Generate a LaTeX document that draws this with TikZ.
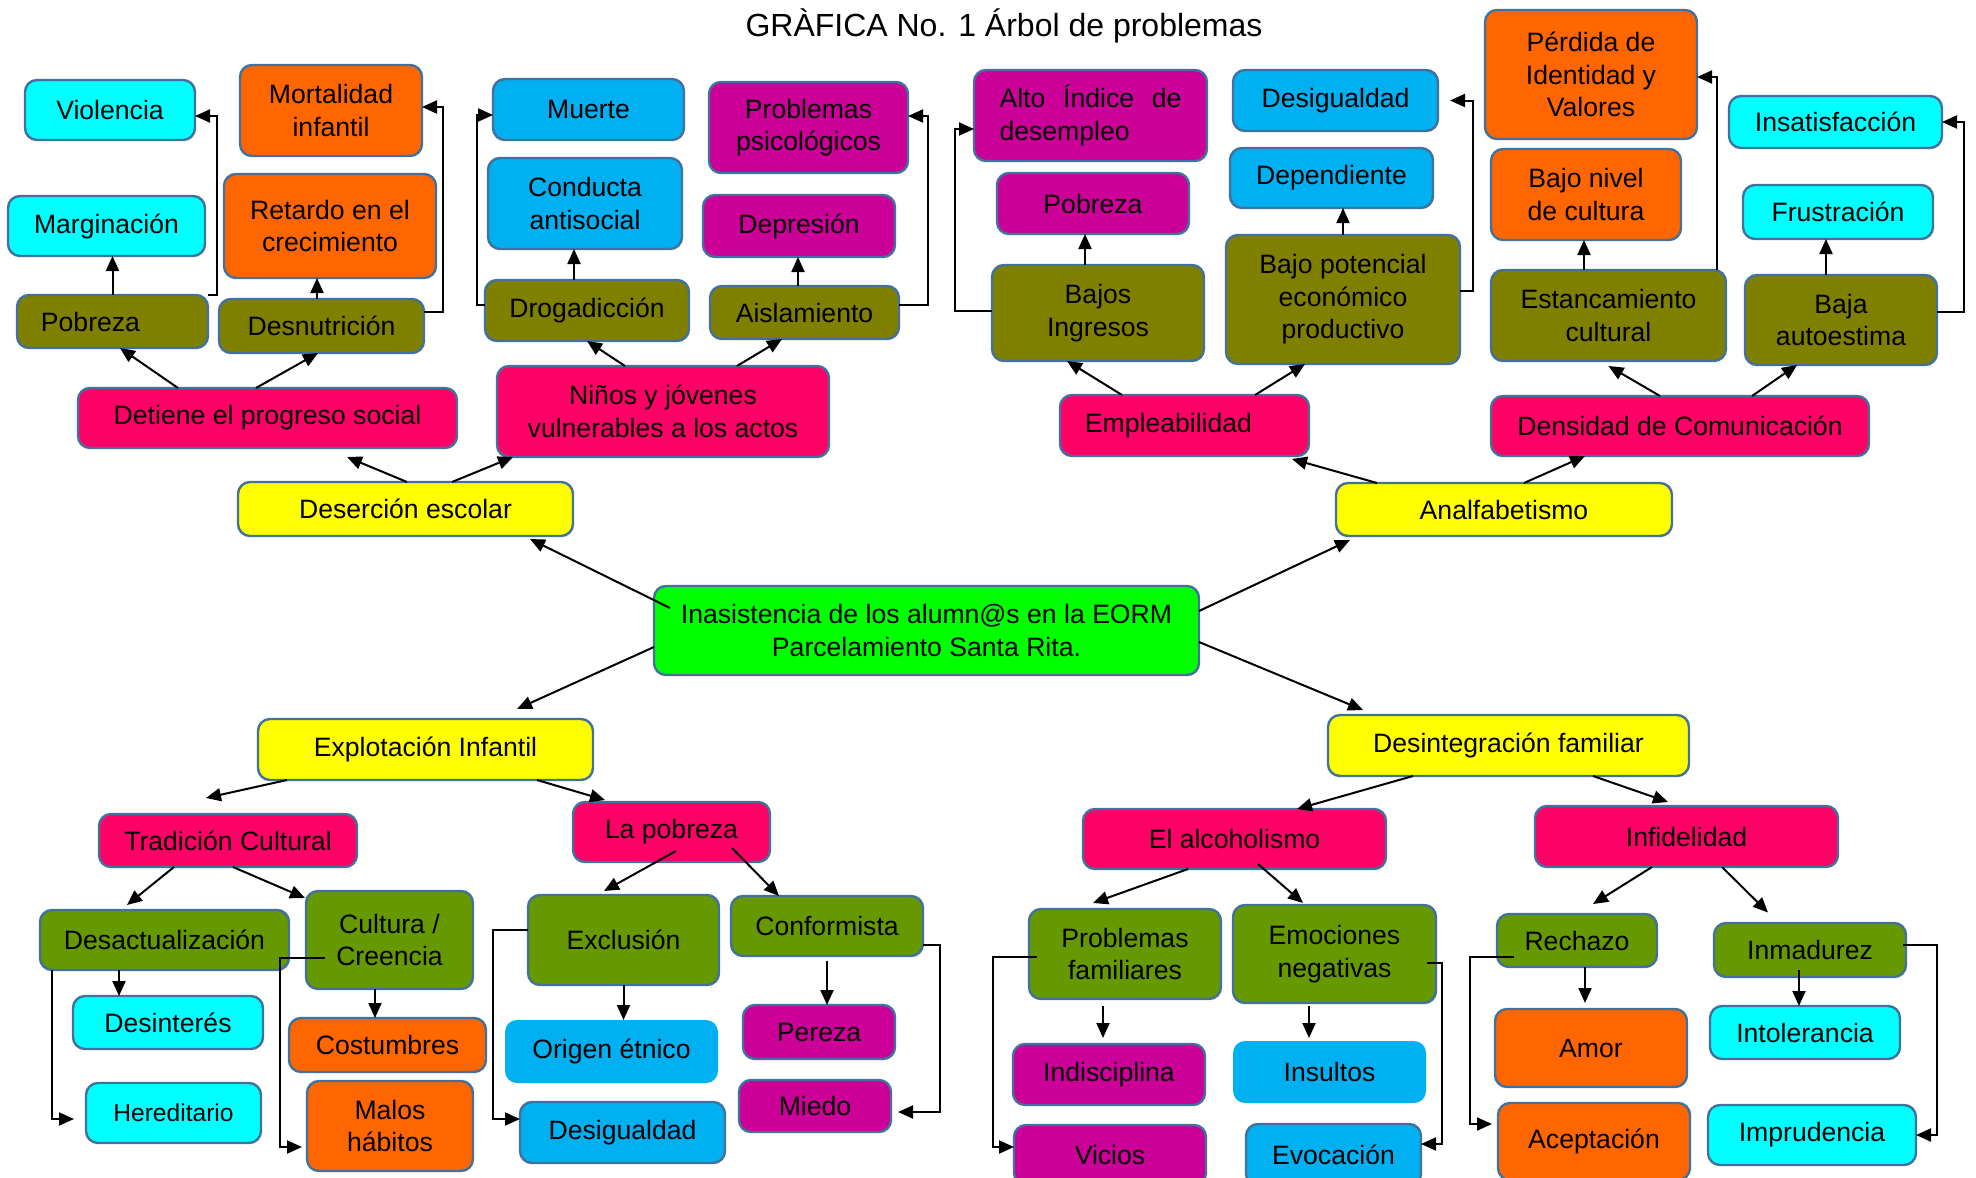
\documentclass[tikz,border=0pt]{standalone}
\usepackage{fontspec}
\setmainfont{Liberation Sans}
\usetikzlibrary{arrows.meta}
\definecolor{cian}{HTML}{00FFFF}
\definecolor{naranja}{HTML}{FF6600}
\definecolor{oliva}{HTML}{808000}
\definecolor{rosa}{HTML}{FF0066}
\definecolor{amarillo}{HTML}{FFFF00}
\definecolor{azul}{HTML}{00B0F0}
\definecolor{morado}{HTML}{CC0099}
\definecolor{verde}{HTML}{00FF00}
\definecolor{verdeosc}{HTML}{669900}
\definecolor{borde}{HTML}{41719C}

\begin{document}
\begin{tikzpicture}[x=0.5pt, y=-0.5pt,
	caja/.style={draw=borde, line width=1.2pt, rounded corners=6pt, inner sep=0pt, outer sep=0pt, align=center, font=\fontsize{13.3pt}{16.3pt}\selectfont},
	flecha/.style={line width=1pt, -{Triangle[length=7.5pt,width=6.5pt]}}]
	\useasboundingbox (0,0) rectangle (1976,1178);
	\draw (1004,36) node[anchor=base, font=\fontsize{16pt}{19pt}\selectfont] (titulo) {GRÀFICA No. 1 Árbol de problemas};
	\draw (110,110) node[caja, fill=cian, minimum width=85pt, minimum height=30pt] (viol) {Violencia};
	\draw (331,110.5) node[caja, fill=naranja, minimum width=91pt, minimum height=45.5pt] (mort) {Mortalidad\\infantil};
	\draw (106.5,226) node[caja, fill=cian, minimum width=98.5pt, minimum height=30pt] (marg) {Marginación};
	\draw (330,226) node[caja, fill=naranja, minimum width=106pt, minimum height=52pt] (retardo) {Retardo en el\\crecimiento};
	\draw (112.5,321.5) node[caja, fill=oliva, minimum width=95.5pt, minimum height=26.5pt] (pobreza) {Pobreza\hspace{22pt}};
	\draw (321.5,326) node[caja, fill=oliva, minimum width=102.5pt, minimum height=27pt] (desnut) {Desnutrición};
	\draw (267.5,418) node[caja, fill=rosa, minimum width=189.5pt, minimum height=30pt] (detiene) {Detiene el progreso social};
	\draw (405.5,509) node[caja, fill=amarillo, minimum width=167.5pt, minimum height=27pt] (deser) {Deserción escolar};
	\draw (588.5,109.5) node[caja, fill=azul, minimum width=95.5pt, minimum height=30.5pt] (muerte) {Muerte};
	\draw (585,203.5) node[caja, fill=azul, minimum width=97pt, minimum height=45.5pt] (conducta) {Conducta\\antisocial};
	\draw (587,310.5) node[caja, fill=oliva, minimum width=102pt, minimum height=30.5pt] (droga) {Drogadicción};
	\draw (808.5,127.5) node[caja, fill=morado, minimum width=99.5pt, minimum height=45.5pt] (psico) {Problemas\\psicológicos};
	\draw (799,226) node[caja, fill=morado, minimum width=96pt, minimum height=31pt] (depre) {Depresión};
	\draw (804.5,312.5) node[caja, fill=oliva, minimum width=94.5pt, minimum height=26.5pt] (aisla) {Aislamiento};
	\draw (663,411.5) node[caja, fill=rosa, minimum width=166pt, minimum height=45.5pt] (ninos) {Niños y jóvenes\\vulnerables a los actos};
	\draw (1090.5,115.5) node[caja, fill=morado, minimum width=116.5pt, minimum height=45.5pt, align=left] (alto) {\makebox[91pt][s]{Alto Índice de}\\desempleo};
	\draw (1093,203.5) node[caja, fill=morado, minimum width=96pt, minimum height=30.5pt] (pobreza2) {Pobreza};
	\draw (1098,313) node[caja, fill=oliva, minimum width=106pt, minimum height=48pt] (bajos) {Bajos\\Ingresos};
	\draw (1335.5,100.5) node[caja, fill=azul, minimum width=102.5pt, minimum height=30.5pt] (desig) {Desigualdad};
	\draw (1331.5,178) node[caja, fill=azul, minimum width=101.5pt, minimum height=30pt] (depen) {Dependiente};
	\draw (1343,299.5) node[caja, fill=oliva, minimum width=117pt, minimum height=64.5pt] (bajopot) {Bajo potencial\\económico\\productivo};
	\draw (1184.5,425.5) node[caja, fill=rosa, minimum width=124.5pt, minimum height=30.5pt] (emplea) {Empleabilidad\hspace{16pt}};
	\draw (1504,509.5) node[caja, fill=amarillo, minimum width=168pt, minimum height=26.5pt] (analf) {Analfabetismo};
	\draw (1591,74.5) node[caja, fill=naranja, minimum width=106pt, minimum height=64.5pt] (perdida) {Pérdida de\\Identidad y\\Valores};
	\draw (1586,194.5) node[caja, fill=naranja, minimum width=95pt, minimum height=45.5pt] (bajonivel) {Bajo nivel\\de cultura};
	\draw (1608.5,315.5) node[caja, fill=oliva, minimum width=117.5pt, minimum height=45.5pt] (estanc) {Estancamiento\\cultural};
	\draw (1835.5,122) node[caja, fill=cian, minimum width=106.5pt, minimum height=26pt] (insat) {Insatisfacción};
	\draw (1838,212) node[caja, fill=cian, minimum width=95pt, minimum height=27pt] (frust) {Frustración};
	\draw (1841,320) node[caja, fill=oliva, minimum width=96pt, minimum height=45pt] (baja) {Baja\\autoestima};
	\draw (1680,426) node[caja, fill=rosa, minimum width=189pt, minimum height=30pt] (densidad) {Densidad de Comunicación};
	\draw (926.5,630.5) node[caja, fill=verde, minimum width=272.5pt, minimum height=44.5pt] (central) {Inasistencia de los alumn@s en la EORM\\Parcelamiento Santa Rita.};
	\draw (425.5,749.5) node[caja, fill=amarillo, minimum width=167.5pt, minimum height=30.5pt] (explot) {Explotación Infantil};
	\draw (228,840.5) node[caja, fill=rosa, minimum width=129pt, minimum height=26.5pt] (trad) {Tradición Cultural};
	\draw (164.5,940) node[caja, fill=verdeosc, minimum width=124.5pt, minimum height=30pt] (desact) {Desactualización};
	\draw (389.5,940) node[caja, fill=verdeosc, minimum width=83.5pt, minimum height=49pt] (cultura) {Cultura /\\Creencia};
	\draw (168,1022.5) node[caja, fill=cian, minimum width=95pt, minimum height=26.5pt] (desint) {Desinterés};
	\draw (173.5,1113) node[caja, fill=cian, minimum width=87.5pt, minimum height=30pt, font=\fontsize{12.3pt}{15pt}\selectfont] (hered) {Hereditario};
	\draw (387.5,1045) node[caja, fill=naranja, minimum width=98.5pt, minimum height=27pt] (costum) {Costumbres};
	\draw (390,1126) node[caja, fill=naranja, minimum width=83pt, minimum height=45pt] (malos) {Malos\\hábitos};
	\draw (671.5,832) node[caja, fill=rosa, minimum width=98.5pt, minimum height=30pt] (lapob) {La pobreza};
	\draw (623.5,940) node[caja, fill=verdeosc, minimum width=95.5pt, minimum height=45pt] (exclu) {Exclusión};
	\draw (827,926) node[caja, fill=verdeosc, minimum width=96pt, minimum height=30pt] (conform) {Conformista};
	\draw (611.5,1051.5) node[caja, fill=azul, draw=none, minimum width=106.5pt, minimum height=31.5pt] (origen) {Origen étnico};
	\draw (622.5,1132.5) node[caja, fill=azul, minimum width=102.5pt, minimum height=30.5pt] (desig2) {Desigualdad};
	\draw (819,1032) node[caja, fill=morado, minimum width=76pt, minimum height=27pt] (pereza) {Pereza};
	\draw (815,1106) node[caja, fill=morado, minimum width=76pt, minimum height=26pt] (miedo) {Miedo};
	\draw (1508.5,745.5) node[caja, fill=amarillo, minimum width=180.5pt, minimum height=30.5pt] (desintf) {Desintegración familiar};
	\draw (1234.5,839) node[caja, fill=rosa, minimum width=151.5pt, minimum height=30pt] (alcohol) {El alcoholismo};
	\draw (1125,954) node[caja, fill=verdeosc, minimum width=96pt, minimum height=45pt] (probfam) {Problemas\\familiares};
	\draw (1334.5,954) node[caja, fill=verdeosc, minimum width=101.5pt, minimum height=49pt] (emoc) {Emociones\\negativas};
	\draw (1109,1074.5) node[caja, fill=morado, minimum width=96pt, minimum height=30.5pt] (indis) {Indisciplina};
	\draw (1110,1155) node[caja, fill=morado, minimum width=96pt, minimum height=30pt] (vicios) {Vicios};
	\draw (1329.5,1072) node[caja, fill=azul, draw=none, minimum width=96.5pt, minimum height=31pt] (insultos) {Insultos};
	\draw (1333.5,1155) node[caja, fill=azul, minimum width=87.5pt, minimum height=31pt] (evoc) {Evocación};
	\draw (1686.5,836.5) node[caja, fill=rosa, minimum width=151.5pt, minimum height=30.5pt] (infid) {Infidelidad};
	\draw (1577,940.5) node[caja, fill=verdeosc, minimum width=80pt, minimum height=26.5pt] (rechazo) {Rechazo};
	\draw (1810,950) node[caja, fill=verdeosc, minimum width=96pt, minimum height=27pt] (inmad) {Inmadurez};
	\draw (1591,1048) node[caja, fill=naranja, minimum width=96pt, minimum height=39pt] (amor) {Amor};
	\draw (1594,1141.5) node[caja, fill=naranja, minimum width=96pt, minimum height=38.5pt] (acept) {Aceptación};
	\draw (1805,1032.5) node[caja, fill=cian, minimum width=95pt, minimum height=26.5pt] (intol) {Intolerancia};
	\draw (1812,1135) node[caja, fill=cian, minimum width=104pt, minimum height=30pt] (impru) {Imprudencia};

	\draw[flecha] ([xshift=-44.75pt]detiene.north) -- ([xshift=3.75pt]pobreza.south);
	\draw[flecha] ([xshift=-5.75pt]detiene.north) -- ([xshift=-1.75pt]desnut.south);
	\draw[flecha] ([xshift=0.75pt]deser.north) -- ([xshift=39.75pt,yshift=-4.5pt]detiene.south);
	\draw[flecha] ([xshift=23.25pt]deser.north) -- ([xshift=-75pt]ninos.south);
	\draw[flecha] ([xshift=-19pt]ninos.north) -- (droga.south);
	\draw[flecha] ([xshift=37pt]ninos.north) -- ([xshift=-11.25pt]aisla.south);
	\draw[flecha] ([xshift=8pt,yshift=11.25pt]central.west) -- ([xshift=62.25pt,yshift=-1.5pt]deser.south);
	\draw[flecha] ([yshift=-8.25pt]central.west) -- ([xshift=45.75pt,yshift=5pt]explot.north);
	\draw[flecha] ([yshift=9.75pt]central.east) -- ([xshift=-77pt,yshift=-2pt]analf.south);
	\draw[flecha] ([yshift=-5.75pt]central.east) -- ([xshift=-72.75pt,yshift=2.5pt]desintf.north);
	\draw[flecha] ([xshift=-63.5pt]analf.north) -- ([xshift=53.75pt,yshift=-1.5pt]emplea.south);
	\draw[flecha] ([xshift=10pt]analf.north) -- ([xshift=-47.5pt]densidad.south);
	\draw[flecha] ([xshift=-31.25pt]emplea.north) -- ([xshift=-15.5pt]bajos.south);
	\draw[flecha] ([xshift=35.25pt]emplea.north) -- ([xshift=-19pt]bajopot.south);
	\draw[flecha] ([xshift=-10pt]densidad.north) -- ([yshift=-2.5pt]estanc.south);
	\draw[flecha] ([xshift=36pt]densidad.north) -- ([xshift=-22pt]baja.south);

	\draw[flecha] (pobreza.north) -- (pobreza.north |- marg.south);
	\draw[flecha] ([xshift=-2.25pt]desnut.north) -- ([xshift=-2.25pt]desnut.north |- retardo.south);
	\draw[flecha] ([xshift=-6.5pt]droga.north) -- ([xshift=-6.5pt]droga.north |- conducta.south);
	\draw[flecha] ([xshift=-3.25pt]aisla.north) -- ([xshift=-3.25pt]aisla.north |- depre.south);
	\draw[flecha] ([xshift=-6.5pt]bajos.north) -- ([xshift=-6.5pt]bajos.north |- pobreza2.south);
	\draw[flecha] (bajopot.north) -- (bajopot.north |- depen.south);
	\draw[flecha] ([xshift=-12.25pt]estanc.north) -- ([xshift=-12.25pt]estanc.north |- bajonivel.south);
	\draw[flecha] ([xshift=-7.5pt]baja.north) -- ([xshift=-7.5pt]baja.north |- frust.south);

	\draw[flecha] (pobreza.north east) -- ++(4.5pt,0) |- ([yshift=-3pt]viol.east);
	\draw[flecha] ([yshift=7pt]desnut.east) -- ++(9.5pt,0) |- ([yshift=1.75pt]mort.east);
	\draw[flecha] ([yshift=2.75pt]droga.west) -- ++(-4pt,0) |- ([yshift=-2.75pt]muerte.west);
	\draw[flecha] ([yshift=3.75pt]aisla.east) -- ++(14.5pt,0) |- ([yshift=5.75pt]psico.east);
	\draw[flecha] ([yshift=1pt]bajos.west) -- ++(-18.5pt,0) |- ([yshift=-6.75pt]alto.west);
	\draw[flecha] ([yshift=4.25pt]bajopot.east) -- ++(6.5pt,0) |- ([xshift=6pt]desig.east);
	\draw[flecha] ([xshift=-4.5pt]estanc.north east) |- ([yshift=-1.25pt]perdida.east);
	\draw[flecha] ([yshift=4pt]baja.east) -- ++(13.5pt,0) |- (insat.east);

	\draw[flecha] ([xshift=-69.25pt]explot.south) -- ([xshift=-11pt,yshift=8pt]trad.north);
	\draw[flecha] ([xshift=55.75pt]explot.south) -- ([xshift=-33.25pt,yshift=1pt]lapob.north);
	\draw[flecha] ([xshift=-27pt]trad.south) -- ([xshift=-18.75pt,yshift=2.5pt]desact.north);
	\draw[flecha] ([xshift=2.5pt]trad.south) -- ([xshift=-0.5pt,yshift=-3.5pt]cultura.north west);
	\draw[flecha] ([xshift=2.25pt,yshift=5.5pt]lapob.south) -- ([xshift=-9.75pt,yshift=2pt]exclu.north);
	\draw[flecha] ([xshift=30.25pt,yshift=7pt]lapob.south) -- ([xshift=-24pt]conform.north);
	\draw[flecha] ([xshift=-47.75pt]desintf.south) -- ([xshift=31.25pt]alcohol.north);
	\draw[flecha] ([xshift=42.25pt]desintf.south) -- ([xshift=-9.25pt,yshift=2pt]infid.north);
	\draw[flecha] ([xshift=-23.25pt]alcohol.south) -- ([xshift=-16pt,yshift=3pt]probfam.north);
	\draw[flecha] ([xshift=11.75pt,yshift=2.5pt]alcohol.south) -- ([xshift=-15.75pt,yshift=1pt]emoc.north);
	\draw[flecha] ([xshift=-17.25pt]infid.south) -- ([xshift=8pt,yshift=5pt]rechazo.north);
	\draw[flecha] ([xshift=17.75pt]infid.south) -- ([xshift=-21pt,yshift=5.25pt]inmad.north);

	\draw[flecha] ([xshift=-22.75pt]desact.south) -- ([xshift=-22.75pt]desact.south |- desint.north);
	\draw[flecha] ([xshift=-7.25pt]cultura.south) -- ([xshift=-7.25pt]cultura.south |- costum.north);
	\draw[flecha] (exclu.south) -- (exclu.south |- origen.north);
	\draw[flecha] ([yshift=-2.5pt]conform.south) -- (conform.south |- pereza.north);
	\draw[flecha] ([xshift=-11pt,yshift=-3.5pt]probfam.south) -- ([xshift=-11pt,yshift=3pt]probfam.south |- indis.north);
	\draw[flecha] ([xshift=-12.75pt,yshift=-1.5pt]emoc.south) -- ([xshift=-12.75pt,yshift=1.5pt]emoc.south |- insultos.north);
	\draw[flecha] ([xshift=4pt]rechazo.south) -- ([xshift=4pt,yshift=3pt]rechazo.south |- amor.north);
	\draw[flecha] ([xshift=-5.5pt,yshift=3.5pt]inmad.south) -- ([xshift=-5.5pt]inmad.south |- intol.north);

	\draw[flecha] ([xshift=6pt]desact.south west) |- ([xshift=-6pt,yshift=-3pt]hered.west);
	\draw[flecha] ([xshift=9.5pt,yshift=-9pt]cultura.west) -- ++(-22.5pt,0) |- ([xshift=-2.5pt,yshift=-10.5pt]malos.west);
	\draw[flecha] ([yshift=5pt]exclu.west) -- ++(-17.5pt,0) |- ([yshift=6.75pt]desig2.west);
	\draw[flecha] ([yshift=-9.5pt]conform.east) -- ++(8.5pt,0) |- ([xshift=3.5pt,yshift=-3pt]miedo.east);
	\draw[flecha] ([xshift=4pt,yshift=-1.5pt]probfam.west) -- ++(-22pt,0) |- ([yshift=4pt]vicios.west);
	\draw[flecha] ([xshift=-4.5pt,yshift=-4.5pt]emoc.east) -- ++(7.5pt,0) |- ([yshift=5.5pt]evoc.east);
	\draw[flecha] ([xshift=8.5pt,yshift=-8.25pt]rechazo.west) -- ++(-22pt,0) |- ([xshift=-3pt,yshift=8.75pt]acept.west);
	\draw[flecha] ([xshift=-1.5pt,yshift=2.5pt]inmad.east) -- ++(17pt,0) |- (impru.east);
\end{tikzpicture}
\end{document}
